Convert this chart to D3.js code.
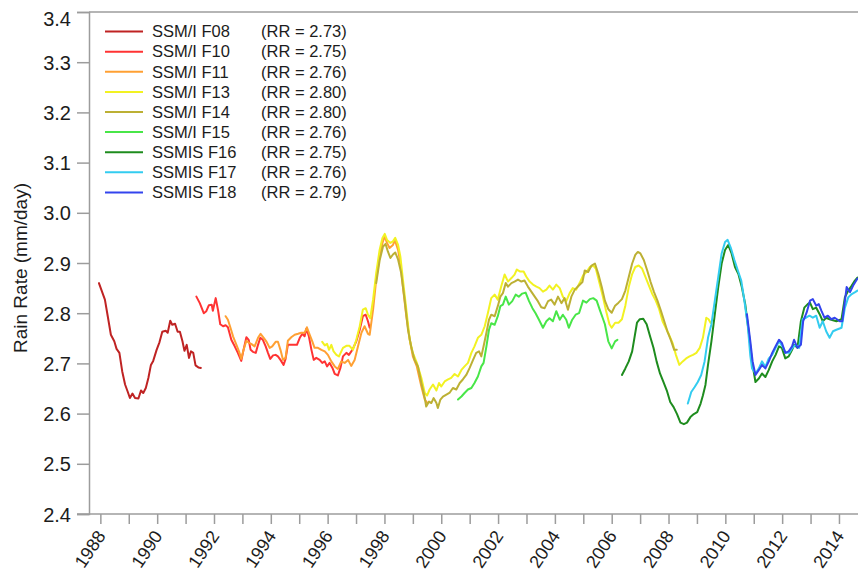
<!DOCTYPE html>
<html>
<head>
<meta charset="utf-8">
<script src="https://cdn.jsdelivr.net/npm/d3@7"></script>
<style>
  html, body { margin: 0; padding: 0; background: #fff; }
  svg { display: block; font-family: "Liberation Sans", Arial, Helvetica, sans-serif; }
</style>
</head>
<body>
<svg id="chart" width="858" height="574"></svg>
<script>
// Monthly global-mean rain rate (running mean) from each DMSP sensor, [decimal year, mm/day]
const names = ["SSM/I F08", "SSM/I F10", "SSM/I F11", "SSM/I F13", "SSM/I F14",
               "SSM/I F15", "SSMIS F16", "SSMIS F17", "SSMIS F18"];
const rrMeans = [2.73, 2.75, 2.76, 2.80, 2.80, 2.76, 2.75, 2.76, 2.79];
const colors = ["#bf2323", "#ff3333", "#ffa033", "#f2f222", "#bcb034",
                "#48e648", "#1e8c1e", "#33ccf0", "#3344ee"];

const f08 = [[1987.95,2.860],[1988.16,2.827],[1988.26,2.794],[1988.37,2.757],[1988.49,2.744],[1988.57,2.729],[1988.67,2.721],[1988.77,2.684],[1988.87,2.658],[1988.96,2.644],[1989.04,2.631],[1989.13,2.640],[1989.22,2.631],[1989.34,2.630],[1989.43,2.646],[1989.51,2.641],[1989.60,2.651],[1989.69,2.671],[1989.78,2.697],[1989.86,2.705],[1989.98,2.727],[1990.08,2.742],[1990.18,2.763],[1990.30,2.765],[1990.37,2.761],[1990.46,2.785],[1990.53,2.777],[1990.63,2.779],[1990.72,2.763],[1990.80,2.763],[1990.89,2.744],[1990.96,2.725],[1991.04,2.737],[1991.12,2.711],[1991.19,2.724],[1991.27,2.721],[1991.35,2.696],[1991.45,2.692],[1991.54,2.691]];

const f10 = [[1991.38,2.833],[1991.50,2.820],[1991.64,2.800],[1991.73,2.804],[1991.82,2.816],[1991.92,2.817],[1991.96,2.805],[1992.06,2.830],[1992.14,2.807],[1992.22,2.778],[1992.32,2.774],[1992.41,2.776],[1992.49,2.772],[1992.61,2.747],[1992.73,2.734],[1992.84,2.721],[1992.96,2.705],[1993.04,2.727],[1993.14,2.752],[1993.22,2.747],[1993.29,2.727],[1993.37,2.723],[1993.47,2.721],[1993.55,2.737],[1993.63,2.751],[1993.72,2.747],[1993.82,2.734],[1993.90,2.721],[1993.98,2.709],[1994.08,2.716],[1994.17,2.717],[1994.25,2.714],[1994.34,2.707],[1994.45,2.697],[1994.52,2.709],[1994.60,2.737],[1994.69,2.737],[1994.80,2.737],[1994.92,2.737],[1995.02,2.751],[1995.11,2.759],[1995.19,2.754],[1995.25,2.769],[1995.34,2.754],[1995.43,2.727],[1995.51,2.707],[1995.60,2.711],[1995.72,2.707],[1995.81,2.701],[1995.90,2.704],[1995.98,2.694],[1996.07,2.701],[1996.17,2.691],[1996.25,2.679],[1996.36,2.676],[1996.45,2.691],[1996.54,2.714],[1996.66,2.721],[1996.75,2.717],[1996.87,2.727],[1997.01,2.744],[1997.13,2.767],[1997.24,2.794],[1997.34,2.797],[1997.42,2.784],[1997.48,2.771]];

const f11 = [[1992.41,2.794],[1992.49,2.787],[1992.58,2.771],[1992.67,2.754],[1992.79,2.737],[1992.88,2.724],[1992.96,2.709],[1993.04,2.727],[1993.14,2.745],[1993.23,2.741],[1993.31,2.739],[1993.43,2.734],[1993.55,2.751],[1993.64,2.759],[1993.75,2.751],[1993.84,2.744],[1993.96,2.731],[1994.05,2.734],[1994.17,2.743],[1994.25,2.743],[1994.34,2.727],[1994.43,2.707],[1994.52,2.711],[1994.60,2.745],[1994.72,2.752],[1994.84,2.757],[1994.96,2.759],[1995.07,2.761],[1995.19,2.761],[1995.27,2.772],[1995.37,2.757],[1995.46,2.744],[1995.54,2.731],[1995.66,2.731],[1995.78,2.727],[1995.90,2.724],[1996.01,2.717],[1996.13,2.704],[1996.25,2.694],[1996.36,2.689],[1996.48,2.704],[1996.60,2.701],[1996.72,2.707],[1996.83,2.695],[1996.95,2.707],[1997.07,2.734],[1997.19,2.761],[1997.30,2.774],[1997.42,2.759],[1997.48,2.757],[1997.60,2.807],[1997.71,2.867],[1997.83,2.913],[1997.93,2.940],[1998.01,2.953],[1998.09,2.940],[1998.18,2.930],[1998.30,2.936],[1998.37,2.945],[1998.48,2.926],[1998.56,2.900],[1998.65,2.853],[1998.77,2.794],[1998.89,2.747],[1999.00,2.714],[1999.14,2.694],[1999.30,2.654],[1999.42,2.628],[1999.50,2.622]];

const f13 = [[1995.81,2.743],[1995.90,2.736],[1995.98,2.739],[1996.05,2.727],[1996.13,2.737],[1996.21,2.724],[1996.31,2.717],[1996.40,2.714],[1996.54,2.731],[1996.66,2.735],[1996.77,2.735],[1996.89,2.727],[1997.01,2.747],[1997.13,2.774],[1997.24,2.807],[1997.34,2.810],[1997.42,2.797],[1997.50,2.790],[1997.60,2.827],[1997.71,2.880],[1997.83,2.926],[1997.93,2.950],[1998.01,2.958],[1998.09,2.946],[1998.21,2.940],[1998.30,2.943],[1998.38,2.950],[1998.48,2.936],[1998.56,2.913],[1998.65,2.867],[1998.77,2.807],[1998.89,2.747],[1999.00,2.721],[1999.14,2.701],[1999.30,2.671],[1999.42,2.641],[1999.50,2.636],[1999.59,2.648],[1999.71,2.658],[1999.83,2.646],[1999.92,2.661],[2000.00,2.654],[2000.12,2.664],[2000.24,2.668],[2000.35,2.671],[2000.47,2.679],[2000.59,2.674],[2000.71,2.687],[2000.82,2.694],[2000.94,2.701],[2001.06,2.721],[2001.17,2.734],[2001.29,2.751],[2001.41,2.757],[2001.53,2.774],[2001.64,2.800],[2001.76,2.830],[2001.88,2.837],[2001.99,2.827],[2002.11,2.853],[2002.23,2.877],[2002.35,2.863],[2002.47,2.870],[2002.58,2.877],[2002.66,2.887],[2002.78,2.883],[2002.90,2.883],[2002.99,2.873],[2003.11,2.863],[2003.23,2.857],[2003.35,2.853],[2003.46,2.850],[2003.58,2.843],[2003.70,2.847],[2003.81,2.855],[2003.93,2.847],[2004.05,2.857],[2004.17,2.850],[2004.28,2.833],[2004.40,2.824],[2004.52,2.840],[2004.63,2.850],[2004.75,2.847],[2004.87,2.860],[2004.99,2.875],[2005.11,2.882],[2005.23,2.892],[2005.35,2.895],[2005.44,2.889],[2005.56,2.862],[2005.68,2.835],[2005.80,2.805],[2005.92,2.778],[2006.00,2.771],[2006.12,2.781],[2006.24,2.781],[2006.36,2.788],[2006.48,2.815],[2006.60,2.852],[2006.72,2.878],[2006.83,2.892],[2006.95,2.895],[2007.07,2.889],[2007.19,2.872],[2007.31,2.855],[2007.43,2.838],[2007.55,2.825],[2007.67,2.808],[2007.79,2.784],[2007.90,2.771],[2008.02,2.757],[2008.14,2.741],[2008.26,2.717],[2008.38,2.697],[2008.50,2.704],[2008.62,2.710],[2008.74,2.714],[2008.86,2.717],[2008.98,2.721],[2009.10,2.731],[2009.21,2.751],[2009.33,2.791],[2009.41,2.788],[2009.48,2.781]];

const f14 = [[1997.71,2.860],[1997.83,2.905],[1997.95,2.933],[1998.04,2.938],[1998.12,2.923],[1998.21,2.910],[1998.30,2.917],[1998.38,2.921],[1998.48,2.907],[1998.59,2.880],[1998.71,2.827],[1998.83,2.767],[1998.95,2.731],[1999.06,2.707],[1999.18,2.694],[1999.30,2.661],[1999.42,2.631],[1999.47,2.614],[1999.57,2.624],[1999.65,2.621],[1999.73,2.631],[1999.83,2.621],[1999.88,2.611],[1999.97,2.628],[2000.06,2.634],[2000.18,2.638],[2000.30,2.642],[2000.41,2.651],[2000.53,2.648],[2000.65,2.661],[2000.76,2.668],[2000.88,2.677],[2001.00,2.691],[2001.12,2.707],[2001.23,2.721],[2001.33,2.724],[2001.41,2.714],[2001.49,2.734],[2001.59,2.761],[2001.68,2.787],[2001.76,2.797],[2001.88,2.794],[2001.99,2.814],[2002.08,2.833],[2002.17,2.840],[2002.27,2.860],[2002.35,2.853],[2002.47,2.860],[2002.58,2.863],[2002.70,2.867],[2002.82,2.863],[2002.93,2.865],[2003.05,2.853],[2003.17,2.843],[2003.29,2.833],[2003.40,2.824],[2003.52,2.812],[2003.64,2.810],[2003.76,2.824],[2003.87,2.827],[2003.99,2.817],[2004.11,2.833],[2004.23,2.820],[2004.34,2.830],[2004.46,2.807],[2004.58,2.833],[2004.70,2.847],[2004.81,2.853],[2004.97,2.862],[2005.05,2.885],[2005.17,2.882],[2005.29,2.895],[2005.41,2.899],[2005.53,2.878],[2005.65,2.852],[2005.76,2.825],[2005.88,2.808],[2006.00,2.801],[2006.12,2.815],[2006.24,2.821],[2006.36,2.828],[2006.48,2.845],[2006.60,2.872],[2006.72,2.899],[2006.83,2.916],[2006.92,2.922],[2007.01,2.919],[2007.13,2.906],[2007.25,2.885],[2007.37,2.862],[2007.49,2.842],[2007.61,2.825],[2007.73,2.805],[2007.85,2.784],[2007.96,2.764],[2008.08,2.747],[2008.20,2.727],[2008.29,2.727]];

const f15 = [[2000.59,2.628],[2000.71,2.634],[2000.82,2.641],[2000.94,2.648],[2001.06,2.651],[2001.17,2.661],[2001.29,2.674],[2001.41,2.694],[2001.49,2.701],[2001.59,2.734],[2001.68,2.767],[2001.76,2.780],[2001.88,2.777],[2001.99,2.794],[2002.08,2.814],[2002.17,2.817],[2002.27,2.833],[2002.38,2.817],[2002.50,2.824],[2002.62,2.837],[2002.73,2.833],[2002.85,2.839],[2002.97,2.841],[2003.09,2.824],[2003.21,2.810],[2003.32,2.800],[2003.44,2.787],[2003.58,2.771],[2003.70,2.784],[2003.81,2.790],[2003.93,2.784],[2004.05,2.804],[2004.17,2.787],[2004.28,2.797],[2004.40,2.787],[2004.49,2.771],[2004.61,2.787],[2004.73,2.797],[2004.85,2.800],[2004.99,2.825],[2005.11,2.821],[2005.23,2.828],[2005.35,2.830],[2005.47,2.825],[2005.59,2.805],[2005.68,2.791],[2005.76,2.778],[2005.88,2.744],[2006.00,2.730],[2006.12,2.744],[2006.20,2.747]];

const f16 = [[2006.36,2.677],[2006.48,2.690],[2006.60,2.704],[2006.72,2.724],[2006.80,2.751],[2006.89,2.781],[2006.99,2.788],[2007.11,2.789],[2007.23,2.778],[2007.35,2.754],[2007.47,2.731],[2007.58,2.704],[2007.70,2.680],[2007.82,2.663],[2007.94,2.646],[2008.06,2.623],[2008.18,2.613],[2008.30,2.599],[2008.42,2.582],[2008.54,2.579],[2008.65,2.582],[2008.77,2.593],[2008.89,2.599],[2009.01,2.603],[2009.13,2.620],[2009.21,2.636],[2009.30,2.657],[2009.39,2.697],[2009.51,2.744],[2009.63,2.798],[2009.75,2.852],[2009.87,2.899],[2009.99,2.926],[2010.10,2.936],[2010.22,2.919],[2010.34,2.892],[2010.46,2.878],[2010.58,2.852],[2010.70,2.818],[2010.82,2.764],[2010.94,2.704],[2011.06,2.663],[2011.18,2.670],[2011.29,2.680],[2011.41,2.673],[2011.53,2.687],[2011.65,2.704],[2011.77,2.717],[2011.89,2.734],[2011.99,2.731],[2012.11,2.710],[2012.23,2.714],[2012.35,2.727],[2012.42,2.737],[2012.54,2.731],[2012.66,2.784],[2012.78,2.811],[2012.90,2.818],[2012.98,2.821],[2013.08,2.808],[2013.20,2.811],[2013.32,2.798],[2013.43,2.784],[2013.55,2.791],[2013.67,2.788],[2013.79,2.786],[2013.91,2.784],[2014.09,2.788],[2014.21,2.832],[2014.33,2.845],[2014.45,2.855],[2014.56,2.865],[2014.65,2.871]];

const f17 = [[2008.68,2.620],[2008.80,2.643],[2008.92,2.653],[2009.03,2.663],[2009.15,2.677],[2009.27,2.704],[2009.39,2.751],[2009.51,2.778],[2009.63,2.825],[2009.75,2.872],[2009.87,2.919],[2009.99,2.942],[2010.08,2.946],[2010.20,2.929],[2010.32,2.906],[2010.44,2.885],[2010.56,2.865],[2010.67,2.825],[2010.79,2.775],[2010.88,2.715],[2010.94,2.690],[2011.06,2.680],[2011.18,2.690],[2011.29,2.704],[2011.41,2.693],[2011.53,2.710],[2011.65,2.717],[2011.77,2.731],[2011.89,2.744],[2012.01,2.734],[2012.13,2.721],[2012.25,2.721],[2012.36,2.731],[2012.48,2.737],[2012.60,2.731],[2012.72,2.788],[2012.84,2.791],[2012.96,2.795],[2013.08,2.791],[2013.20,2.795],[2013.32,2.771],[2013.43,2.784],[2013.55,2.764],[2013.67,2.751],[2013.79,2.764],[2013.91,2.767],[2014.09,2.771],[2014.21,2.811],[2014.33,2.832],[2014.45,2.838],[2014.57,2.842],[2014.65,2.845]];

const f18 = [[2010.76,2.798],[2010.88,2.744],[2010.96,2.704],[2011.06,2.677],[2011.18,2.687],[2011.29,2.697],[2011.41,2.690],[2011.53,2.704],[2011.65,2.721],[2011.77,2.734],[2011.89,2.747],[2011.99,2.741],[2012.11,2.721],[2012.23,2.724],[2012.35,2.734],[2012.42,2.747],[2012.54,2.731],[2012.66,2.737],[2012.74,2.784],[2012.86,2.801],[2012.98,2.825],[2013.08,2.828],[2013.20,2.815],[2013.29,2.818],[2013.38,2.805],[2013.49,2.791],[2013.61,2.795],[2013.73,2.788],[2013.85,2.791],[2014.03,2.784],[2014.12,2.784],[2014.27,2.852],[2014.39,2.842],[2014.50,2.855],[2014.65,2.869]];

const seriesValues = [f08, f10, f11, f13, f14, f15, f16, f17, f18];

const yTicks = [2.4, 2.5, 2.6, 2.7, 2.8, 2.9, 3.0, 3.1, 3.2, 3.3, 3.4];
const xMinorTicks = d3.range(1988, 2015);             // one tick per year
const xLabelYears = d3.range(1988, 2015, 2);           // labelled every other year
const yTitle = "Rain Rate (mm/day)";

// ---- layout ----
const plot = { left: 89, right: 858, top: 12, bottom: 514 };
const axisColor = "#9c9c9c";
const textColor = "#1c1c1c";

const svg = d3.select("#chart");

const x = d3.scaleLinear().domain([1987.6, 2014.67]).range([plot.left, plot.right]);
const y = d3.scaleLinear().domain([2.4, 3.4]).range([plot.bottom, plot.top]);

svg.append("defs").append("clipPath").attr("id", "plot-clip")
  .append("rect")
  .attr("x", plot.left).attr("y", plot.top)
  .attr("width", plot.right - plot.left).attr("height", plot.bottom - plot.top);

// ---- y axis ----
const yAxis = d3.axisLeft(y).tickValues(yTicks).tickSize(12).tickPadding(6)
  .tickFormat(d3.format(".1f"));
const gy = svg.append("g").attr("transform", `translate(${plot.left},0)`).call(yAxis);
gy.select(".domain").attr("stroke", axisColor).attr("stroke-width", 1.5);
gy.selectAll(".tick line").attr("stroke", axisColor).attr("stroke-width", 1.5);
gy.selectAll(".tick text")
  .attr("fill", textColor).style("font-size", "20px")
  .attr("dy", "0.35em");
// keep the top label clear of the frame
gy.selectAll(".tick").filter(d => d === 3.4).select("text").attr("y", 6);

// top frame line
svg.append("line")
  .attr("x1", plot.left).attr("x2", plot.right)
  .attr("y1", y(3.4)).attr("y2", y(3.4))
  .attr("stroke", axisColor).attr("stroke-width", 1.5);

// ---- x axis ----
const xAxis = d3.axisBottom(x).tickValues(xMinorTicks).tickSize(10).tickFormat("");
const gx = svg.append("g").attr("transform", `translate(0,${plot.bottom})`).call(xAxis);
gx.select(".domain").remove();
gx.selectAll(".tick line").attr("stroke", axisColor).attr("stroke-width", 1.5);
svg.append("line")
  .attr("x1", plot.left - 12).attr("x2", plot.right)
  .attr("y1", plot.bottom).attr("y2", plot.bottom)
  .attr("stroke", axisColor).attr("stroke-width", 1.5);

svg.append("g").selectAll("text").data(xLabelYears).join("text")
  .attr("transform", d => `translate(${x(d) + 6},${plot.bottom + 22}) rotate(-56)`)
  .attr("text-anchor", "end")
  .attr("fill", textColor)
  .style("font-size", "18px")
  .text(d => d);

// y axis title
svg.append("text")
  .attr("transform", `translate(27,268) rotate(-90)`)
  .attr("text-anchor", "middle")
  .attr("fill", textColor)
  .style("font-size", "19px")
  .text(yTitle);

// ---- series lines ----
const line = d3.line().x(d => x(d[0])).y(d => y(d[1]));
svg.append("g").attr("clip-path", "url(#plot-clip)")
  .selectAll("path").data(seriesValues).join("path")
  .attr("d", line)
  .attr("fill", "none")
  .attr("stroke", (d, i) => colors[i])
  .attr("stroke-width", 2)
  .attr("stroke-linejoin", "round")
  .attr("stroke-linecap", "round");

// ---- legend ----
const legend = svg.append("g").selectAll("g").data(names).join("g")
  .attr("transform", (d, i) => `translate(0,${31.6 + i * 20.1})`);
legend.append("line")
  .attr("x1", 105).attr("x2", 143).attr("y1", 0).attr("y2", 0)
  .attr("stroke", (d, i) => colors[i]).attr("stroke-width", 2);
legend.append("text")
  .attr("x", 152).attr("dy", "0.35em")
  .attr("fill", textColor).style("font-size", "16.5px")
  .text(d => d);
legend.append("text")
  .attr("x", 261).attr("dy", "0.35em")
  .attr("fill", textColor).style("font-size", "16.5px")
  .text((d, i) => `(RR = ${rrMeans[i].toFixed(2)})`);
</script>
</body>
</html>
